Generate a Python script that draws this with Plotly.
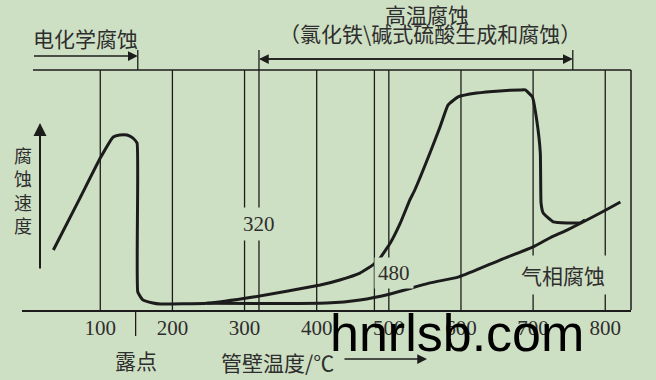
import plotly.graph_objects as go

# ---------------- data ----------------
# main corrosion curve: electrochemical peak, dew-point drop, high-temperature branch
temp_main = [35, 72, 100, 118, 127, 137, 145, 151, 152, 159, 173, 183, 248,
             312, 405, 432, 460, 478, 488, 502, 516, 529, 536, 557, 571, 582, 596,
             622, 654, 682, 689, 699, 705, 710, 711, 714, 728, 765, 772]
rate_main = [25.0, 46.7, 63.3, 72.1, 72.9, 72.9, 71.7, 69.6, 7.5, 4.2, 2.9, 2.5, 2.8,
             5.4, 10.4, 12.5, 15.4, 18.8, 21.7, 27.9, 36.3, 45.8, 50.0, 65.4, 76.3, 85.4, 88.8,
             90.4, 91.3, 91.7, 91.7, 88.8, 79.2, 65.4, 44.6, 40.4, 36.7, 36.3, 37.5]

# gas-phase corrosion curve
temp_gas = [248, 321, 414, 460, 502, 557, 597, 654, 700, 723, 747, 793, 821]
rate_gas = [2.8, 2.7, 2.9, 4.2, 6.7, 11.3, 13.8, 20.8, 26.3, 30.0, 33.3, 40.4, 45.0]

grid_temps = [100, 200, 300, 320, 400, 480, 500, 600, 700, 800]
tick_vals = [100, 200, 300, 400, 500, 600, 700, 800]
tick_text = ["100", "200", "300", "400", "500", "600", "700", "800"]
dew_point = 149
electro_start = 6
electro_end = 152
hightemp_start = 320
hightemp_end = 755

BG = "#cee0c4"
INK = "#1c1c1c"
TXT = "#2e2e2e"

W, H = 656, 380
L, R, T, B = 22, 25, 70, 70
PW, PH = W - L - R, H - T - B


def px(x):
    return (x - L) / PW


def py(y):
    return (H - B - y) / PH


fig = go.Figure()
fig.add_trace(go.Scatter(x=temp_main, y=rate_main, mode="lines",
                         line=dict(color=INK, width=3, shape="spline", smoothing=0.35),
                         hoverinfo="skip"))
fig.add_trace(go.Scatter(x=temp_gas, y=rate_gas, mode="lines",
                         line=dict(color=INK, width=3, shape="spline", smoothing=0.6),
                         hoverinfo="skip"))

shapes = []
for g in grid_temps:
    top = py(50) if g == hightemp_start else 1
    shapes.append(dict(type="line", xref="x", yref="paper", x0=g, x1=g, y0=0, y1=top,
                       line=dict(color=INK, width=1.3), layer="below"))
# top line and right frame
shapes.append(dict(type="line", xref="paper", yref="paper", x0=px(33), x1=1, y0=1, y1=1,
                   line=dict(color=INK, width=1.5)))
shapes.append(dict(type="line", xref="paper", yref="paper", x0=1, x1=1, y0=0, y1=1,
                   line=dict(color=INK, width=1.5)))
# range ticks at top
for xt in [electro_end, hightemp_end]:
    shapes.append(dict(type="line", xref="x", yref="paper", x0=xt, x1=xt, y0=1, y1=py(50),
                       line=dict(color=INK, width=1.3)))
# dew point tick
shapes.append(dict(type="line", xref="x", yref="paper", x0=dew_point, x1=dew_point,
                   y0=0, y1=py(336), line=dict(color=INK, width=1.3)))

annotations = []


def harrow(tip, tail, y):
    annotations.append(dict(x=tip, y=py(y), xref="x", yref="paper",
                            ax=tail, ay=0, axref="x", ayref="pixel",
                            text="", showarrow=True, arrowhead=2, arrowsize=1.3,
                            arrowwidth=1.5, arrowcolor=INK))


harrow(electro_end, electro_start, 56)
harrow(hightemp_start, hightemp_end, 59)
harrow(hightemp_end, hightemp_start, 59)

# y-axis arrow
annotations.append(dict(x=px(40), y=py(123), xref="paper", yref="paper",
                        ax=0, ay=147, text="", showarrow=True, arrowhead=2,
                        arrowsize=1.3, arrowwidth=2, arrowcolor=INK))
# temperature arrow
annotations.append(dict(x=px(427), y=py(359), xref="paper", yref="paper",
                        ax=-84, ay=0, text="", showarrow=True, arrowhead=2,
                        arrowsize=1.3, arrowwidth=1.5, arrowcolor=INK))

CJK = "Noto Sans CJK SC"
SERIF = "Liberation Serif"


def label(text, x, y, size=21, family=CJK, bg=None, pad=1, color=TXT):
    annotations.append(dict(text=text, x=px(x), y=py(y), xref="paper", yref="paper",
                            showarrow=False, xanchor="center", yanchor="middle",
                            font=dict(family=family, size=size, color=color),
                            bgcolor=bg, borderpad=pad))


label("电化学腐蚀", 85, 38, 21)
label("高温腐蚀", 427, 14, 21)
label("（氯化铁\\碱式硫酸生成和腐蚀）", 430, 33, 21)
label("腐<br>蚀<br>速<br>度", 23, 190, 18)
label("320", 259, 224, 21, SERIF, bg=BG, pad=4)
label("480", 394, 273, 21, SERIF, bg=BG, pad=3)
label("气相腐蚀", 563, 275, 21, CJK, bg=BG, pad=4)
label("露点", 136, 360, 21)
label("管壁温度/℃", 277, 362, 21)
label("hnrlsb.com", 457, 333, 52, "Liberation Sans", color="#000000")

fig.update_layout(
    width=W, height=H,
    margin=dict(l=L, r=R, t=T, b=B, pad=0),
    paper_bgcolor=BG, plot_bgcolor=BG,
    showlegend=False,
    shapes=shapes, annotations=annotations,
    xaxis=dict(range=[-8.5, 835.7], showgrid=False, zeroline=False,
               showline=True, linecolor=INK, linewidth=1.5,
               tickmode="array", tickvals=tick_vals, ticktext=tick_text,
               ticks="", tickfont=dict(family=SERIF, size=21, color=TXT),
               ticklabelstandoff=-2),
    yaxis=dict(range=[0, 100], showgrid=False, zeroline=False, showline=False,
               showticklabels=False, ticks=""),
)

fig.write_html("out.html")
